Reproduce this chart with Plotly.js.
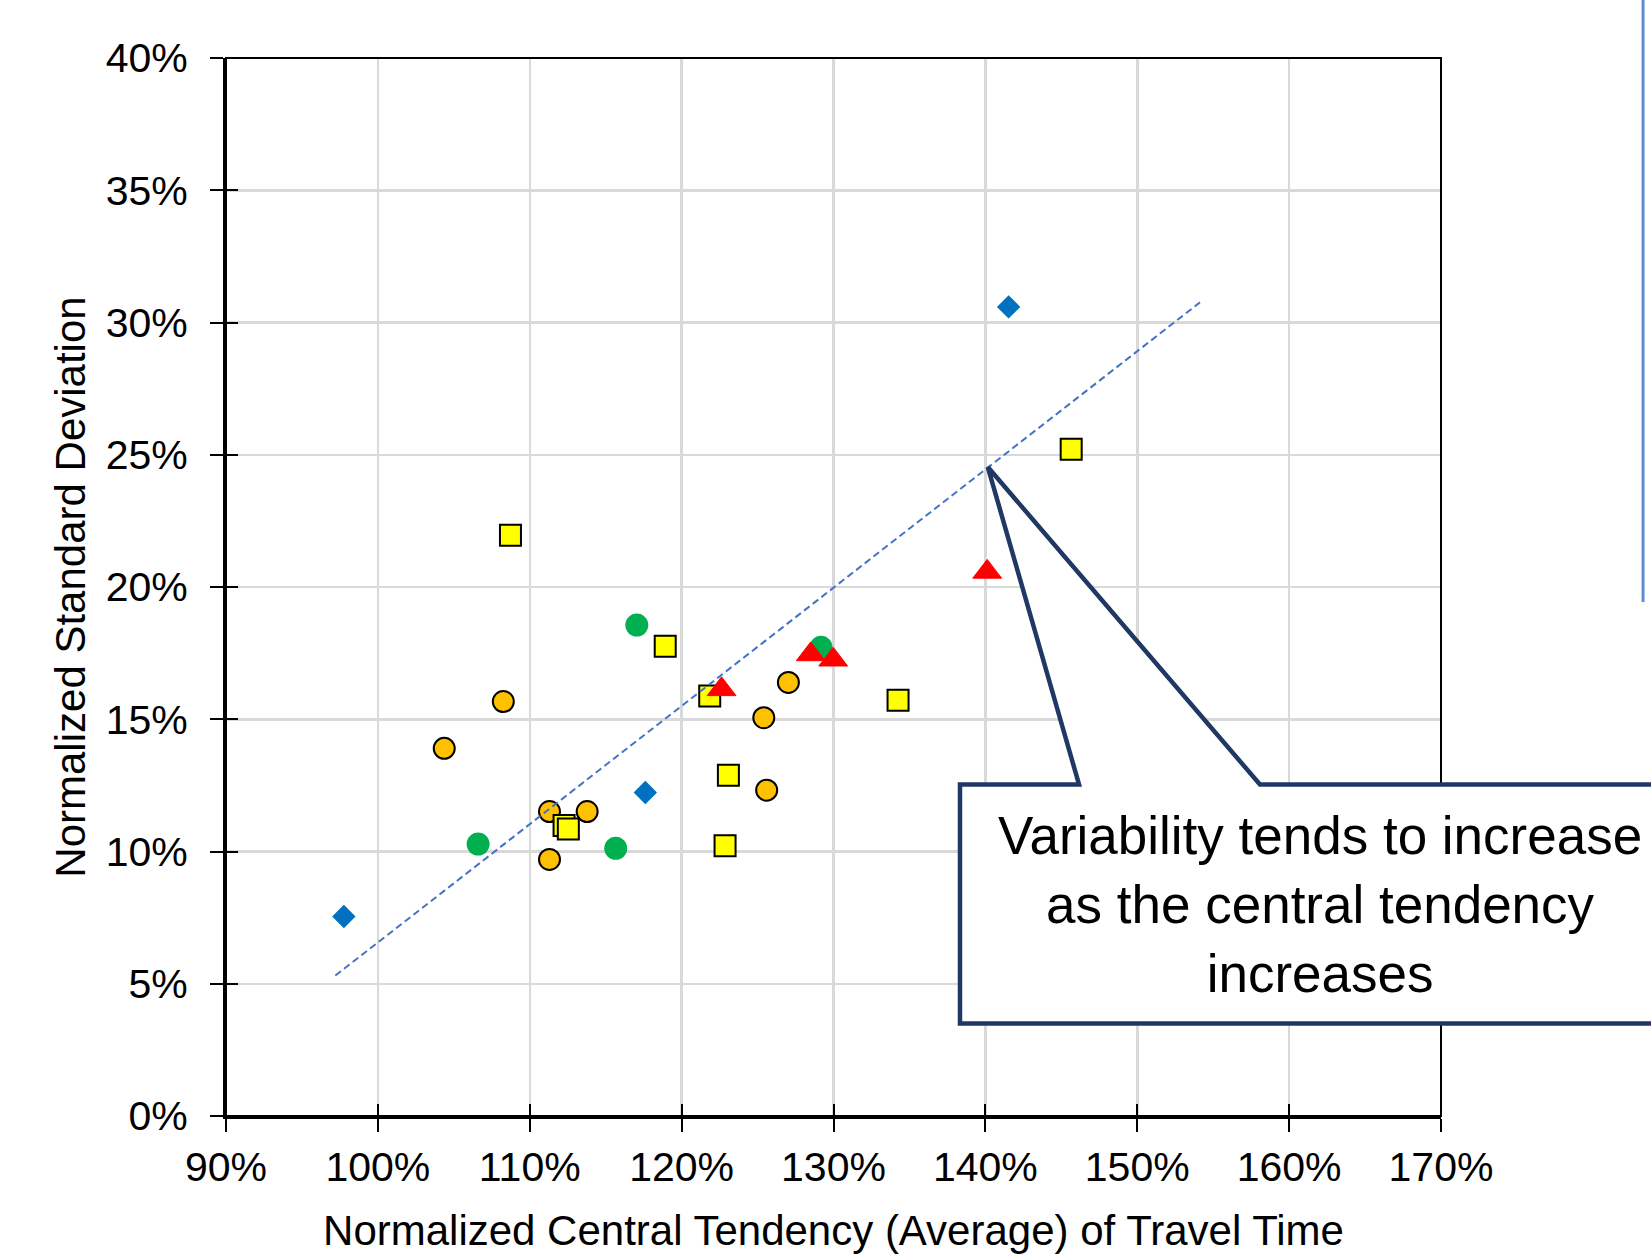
<!DOCTYPE html>
<html>
<head>
<meta charset="utf-8">
<script src="https://cdn.plot.ly/plotly-3.0.1.min.js"></script>
<style>
  html, body { margin: 0; padding: 0; background: #ffffff; }
  #chart { width: 1651px; height: 1258px; }
</style>
</head>
<body>
<div id="chart"></div>
<script>
// Normalized central tendency of travel time (x, %) vs normalized standard deviation (y, %)
const diamondX = [97.76, 117.61, 141.53];
const diamondY = [7.54, 12.23, 30.59];

const orangeX = [104.37, 108.26, 111.30, 113.78, 111.30, 125.41, 125.60, 127.03];
const orangeY = [13.90, 15.67, 11.51, 11.51, 9.70, 15.06, 12.32, 16.39];

const squareX = [108.73, 118.92, 121.85, 123.08, 122.86, 112.26, 112.54, 134.25, 145.65];
const squareY = [21.96, 17.76, 15.88, 12.88, 10.22, 10.98, 10.85, 15.72, 25.21];

const triangleX = [122.63, 128.50, 129.98, 140.12];
const triangleY = [16.13, 17.45, 17.25, 20.57];

const greenX = [106.60, 115.66, 117.05, 129.18];
const greenY = [10.28, 10.12, 18.56, 17.72];

// Linear trend across all points, given by its two end points
const trendX = [97.2, 154.13];
const trendY = [5.31, 30.76];

const xTickVals = [90, 100, 110, 120, 130, 140, 150, 160, 170];
const yTickVals = [0, 5, 10, 15, 20, 25, 30, 35, 40];
const xTickText = xTickVals.map(v => v + '%');
const yTickText = yTickVals.map(v => v + '%');

const calloutText = 'Variability tends to increase<br>as the central tendency<br>increases';

const FONT = 'Liberation Sans, Arial, sans-serif';

const outlined = { color: '#000000', width: 2 };

const traces = [
  { type: 'scatter', mode: 'markers', x: greenX, y: greenY,
    marker: { symbol: 'circle', size: 23, color: '#00B050', line: { width: 0 } } },
  { type: 'scatter', mode: 'markers', x: orangeX, y: orangeY,
    marker: { symbol: 'circle', size: 21, color: '#FFC000', line: outlined } },
  { type: 'scatter', mode: 'markers', x: squareX, y: squareY,
    marker: { symbol: 'square', size: 21, color: '#FFFF00', line: outlined } },
  { type: 'scatter', mode: 'markers', x: diamondX, y: diamondY,
    marker: { symbol: 'diamond', size: 18, color: '#0070C0', line: { width: 0 } } },
  { type: 'scatter', mode: 'markers', x: triangleX, y: triangleY,
    marker: { symbol: 'triangle-up', size: 25, color: '#FF0000', line: { color: '#FF0000', width: 1 } } },
  { type: 'scatter', mode: 'lines', x: trendX, y: trendY,
    line: { color: '#4472C4', width: 2, dash: '7px,4px' } },
  // empty traces that bring up the overlay axes carrying the inner tick marks
  { type: 'scatter', mode: 'markers', x: [null], y: [null], xaxis: 'x2', yaxis: 'y', hoverinfo: 'skip' },
  { type: 'scatter', mode: 'markers', x: [null], y: [null], xaxis: 'x', yaxis: 'y2', hoverinfo: 'skip' }
];

const tickFont = { family: FONT, size: 41, color: '#000000' };
const titleFont = { family: FONT, size: 42, color: '#000000' };

const layout = {
  width: 1651,
  height: 1258,
  margin: { l: 226, r: 210, t: 58, b: 142 },
  paper_bgcolor: '#ffffff',
  plot_bgcolor: '#ffffff',
  showlegend: false,
  hovermode: false,
  xaxis: {
    range: [90, 170],
    tickmode: 'array', tickvals: xTickVals, ticktext: xTickText,
    tickfont: tickFont,
    ticks: 'outside', ticklen: 13, tickwidth: 2, tickcolor: '#000000',
    ticklabelstandoff: 0,
    showline: true, linewidth: 3, linecolor: '#000000',
    showgrid: true, gridcolor: '#D9D9D9', gridwidth: 2.5,
    zeroline: false,
    title: { text: 'Normalized Central Tendency (Average) of Travel Time', font: titleFont, standoff: 27 }
  },
  xaxis2: {
    overlaying: 'x', anchor: 'y', side: 'bottom',
    range: [90, 170],
    tickmode: 'array', tickvals: xTickVals,
    ticks: 'inside', ticklen: 12, tickwidth: 2, tickcolor: '#000000',
    showticklabels: false, showline: false, showgrid: false, zeroline: false
  },
  yaxis: {
    range: [0, 40],
    tickmode: 'array', tickvals: yTickVals, ticktext: yTickText,
    tickfont: tickFont,
    ticks: 'outside', ticklen: 13, tickwidth: 2, tickcolor: '#000000',
    ticklabelstandoff: 14,
    showline: true, linewidth: 3, linecolor: '#000000',
    showgrid: true, gridcolor: '#D9D9D9', gridwidth: 2.5,
    zeroline: false,
    title: { text: 'Normalized Standard Deviation', font: titleFont, standoff: 8 }
  },
  yaxis2: {
    overlaying: 'y', anchor: 'x', side: 'left',
    range: [0, 40],
    tickmode: 'array', tickvals: yTickVals,
    ticks: 'inside', ticklen: 12, tickwidth: 2, tickcolor: '#000000',
    showticklabels: false, showline: false, showgrid: false, zeroline: false
  },
  shapes: [
    // frame along the top and right of the plot area
    { type: 'rect', xref: 'paper', yref: 'paper', x0: 0, x1: 1, y0: 0, y1: 1,
      line: { color: '#000000', width: 2 }, fillcolor: 'rgba(0,0,0,0)', layer: 'above' },
    // callout box with its pointer onto the trend line
    { type: 'path', xref: 'paper', yref: 'paper', layer: 'above',
      path: 'M 0.6041 0.3133 L 0.7021 0.3133 L 0.6270 0.6134 L 0.8510 0.3133 ' +
            'L 1.2132 0.3133 L 1.2132 0.0874 L 0.6041 0.0874 Z',
      fillcolor: '#ffffff', line: { color: '#1F3864', width: 4.5 } },
    // edge of a neighbouring panel on the right
    { type: 'line', xref: 'paper', yref: 'paper', layer: 'above',
      x0: 1.1663, x1: 1.1663, y0: 1.06, y1: 0.4858,
      line: { color: '#5B8FD0', width: 3 } }
  ],
  annotations: [
    { xref: 'paper', yref: 'paper', x: 0.9008, y: 0.2000,
      xanchor: 'center', yanchor: 'middle', align: 'center', showarrow: false,
      text: calloutText, font: { family: FONT, size: 53, color: '#000000' } }
  ]
};

Plotly.newPlot('chart', traces, layout, { displayModeBar: false, staticPlot: true });
</script>
</body>
</html>
